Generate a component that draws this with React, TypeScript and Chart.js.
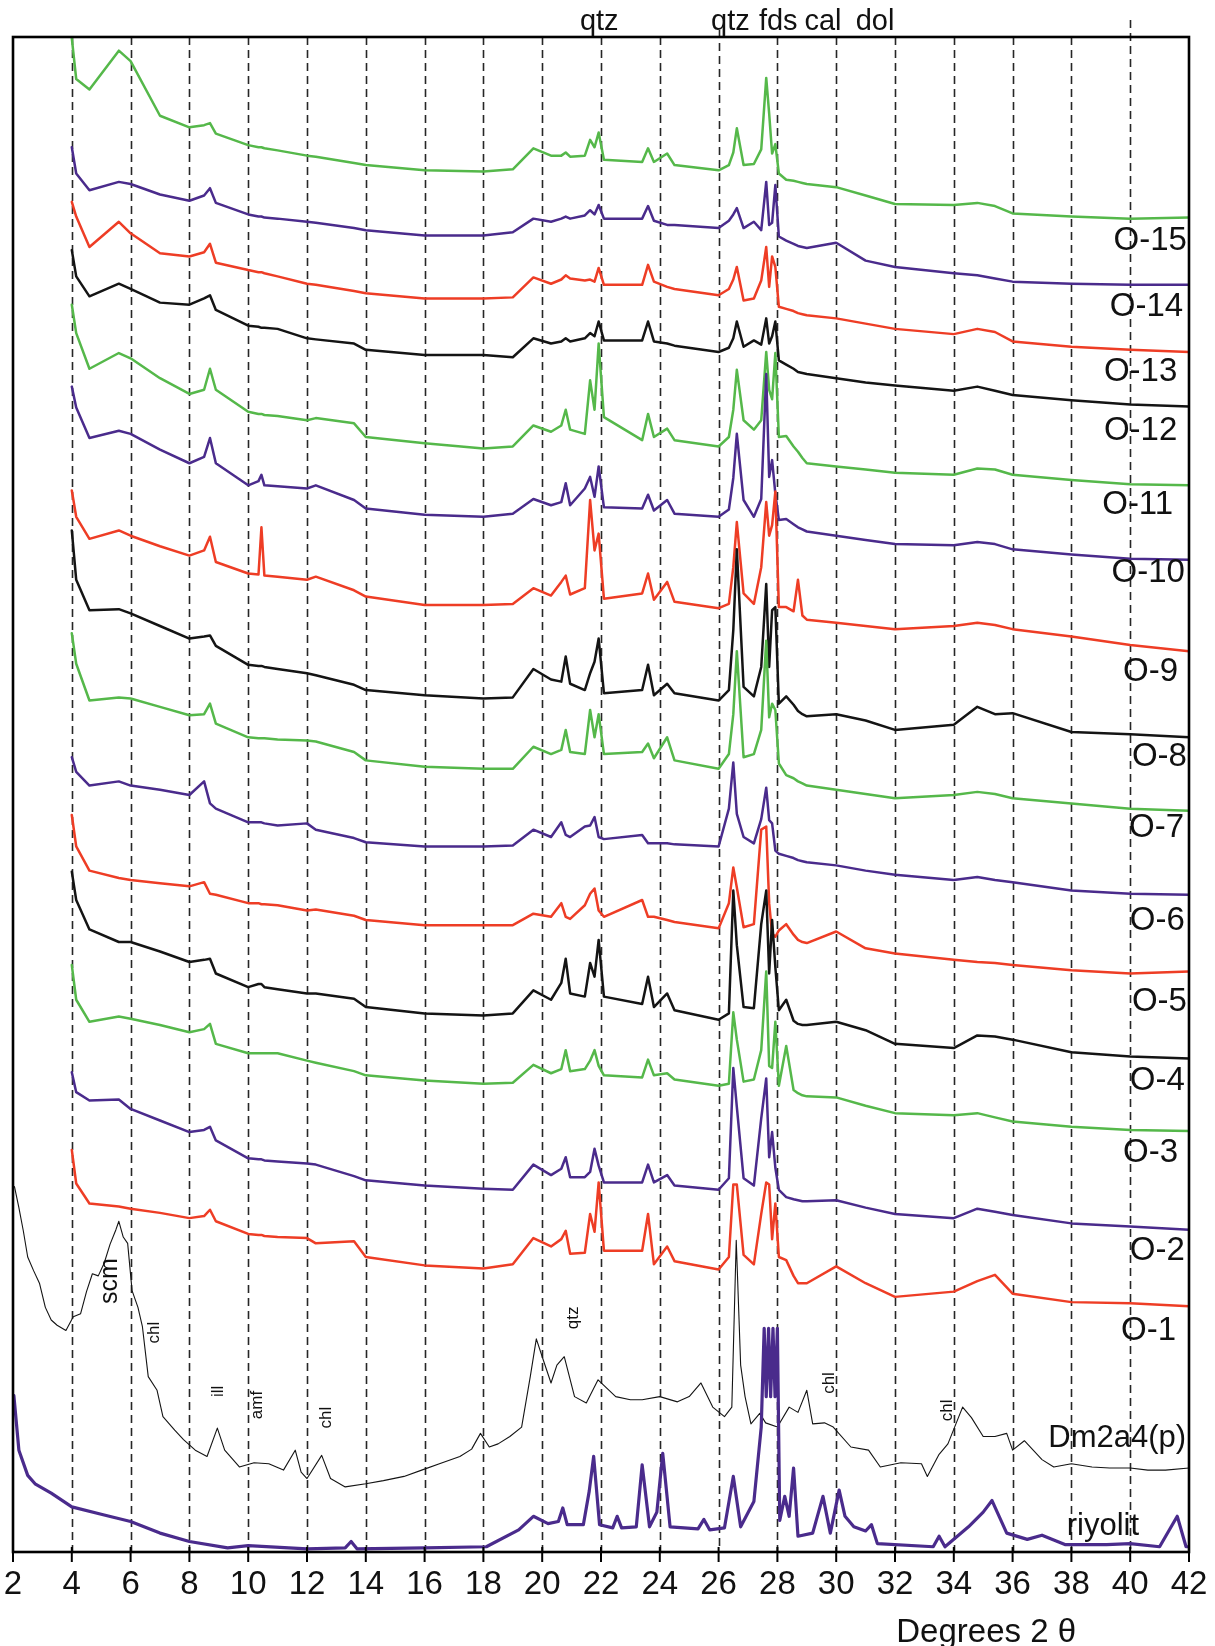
import React, { useEffect, useRef } from 'react';
import { Chart, registerables } from 'chart.js';

Chart.register(...registerables);

const FONT = "'Liberation Sans Narrow', 'Arial Narrow', 'Liberation Sans', Arial, sans-serif";

const RED = '#ee3d25';
const PURPLE = '#4a2b8c';
const GREEN = '#55b84a';
const BLACK = '#141414';

// x-axis tick labels (Degrees 2θ)
const xTicks = [2, 4, 6, 8, 10, 12, 14, 16, 18, 20, 22, 24, 26, 28, 30, 32, 34, 36, 38, 40, 42];

// shared 2θ grid for the O-samples
const twoTheta = [
  4.0, 4.15, 4.6, 5.6, 6.0, 7.0, 8.0, 8.5, 8.7, 8.9,
  10.0, 10.35, 10.45, 10.55, 11.0, 12.0, 12.3, 13.6, 14.0, 16.0,
  18.0, 19.0, 19.7, 20.3, 20.65, 20.8, 20.95, 21.45, 21.63, 21.78,
  21.92, 22.1, 23.4, 23.6, 23.8, 24.25, 24.5, 26.0, 26.35, 26.5,
  26.62, 26.85, 27.2, 27.45, 27.62, 27.72, 27.82, 27.93, 28.05, 28.3,
  28.55, 28.7, 28.85, 29.0, 30.0, 31.0, 32.0, 34.0, 34.8, 35.4,
  36.0, 38.0, 40.0, 42.0,
];

// stacked intensities (arbitrary units)
const o15 = [
  1442, 1403, 1393, 1430, 1420, 1368, 1357, 1359, 1361, 1351,
  1340, 1338, 1338, 1337, 1335, 1330, 1329, 1323, 1321, 1316,
  1315, 1317, 1337, 1330, 1330, 1333, 1329, 1330, 1345, 1338,
  1352, 1326, 1324, 1337, 1324, 1332, 1321, 1316, 1321, 1333,
  1356, 1321, 1322, 1336, 1404, 1370, 1332, 1341, 1313, 1307,
  1306, 1305, 1304, 1303, 1300, 1292, 1284, 1283, 1285, 1282,
  1275, 1272, 1270, 1271,
];
const o14 = [
  1338, 1313, 1297, 1305, 1303, 1293, 1287, 1292, 1299, 1285,
  1274, 1272, 1272, 1271, 1270, 1267, 1266, 1261, 1259, 1254,
  1254, 1257, 1270, 1267, 1270, 1272, 1270, 1273, 1278, 1274,
  1283, 1270, 1270, 1282, 1268, 1264, 1264, 1261, 1268, 1274,
  1280, 1261, 1267, 1259, 1305, 1264, 1266, 1302, 1253, 1249,
  1246, 1244, 1243, 1242, 1247, 1230, 1224, 1218, 1216, 1213,
  1210, 1208, 1207, 1207,
];
const o13 = [
  1286, 1272, 1243, 1267, 1256, 1237, 1234, 1238, 1246, 1228,
  1221, 1219, 1219, 1218, 1215, 1208, 1207, 1201, 1199, 1194,
  1194, 1195, 1214, 1208, 1212, 1216, 1213, 1211, 1212, 1210,
  1223, 1207, 1207, 1226, 1210, 1205, 1203, 1197, 1203, 1212,
  1224, 1192, 1194, 1211, 1243, 1205, 1234, 1224, 1186, 1184,
  1182, 1180, 1179, 1178, 1175, 1170, 1165, 1160, 1165, 1162,
  1153, 1148, 1145, 1143,
];
const o12 = [
  1240, 1215, 1196, 1208, 1203, 1190, 1188, 1194, 1197, 1183,
  1168, 1167, 1166, 1166, 1165, 1156, 1155, 1151, 1145, 1140,
  1140, 1138, 1156, 1151, 1153, 1156, 1153, 1156, 1161, 1158,
  1172, 1154, 1154, 1172, 1153, 1151, 1149, 1143, 1147, 1156,
  1172, 1148, 1154, 1150, 1175, 1151, 1158, 1172, 1135, 1131,
  1127, 1124, 1123, 1122, 1118, 1114, 1111, 1106, 1110, 1106,
  1102, 1097, 1093, 1091,
];
const o11 = [
  1188, 1161, 1127, 1142, 1137, 1118, 1103, 1107, 1127, 1107,
  1086, 1084, 1084, 1083, 1082, 1078, 1080, 1075, 1062, 1056,
  1051, 1053, 1073, 1067, 1073, 1088, 1069, 1065, 1116, 1088,
  1151, 1081, 1059, 1084, 1062, 1070, 1059, 1053, 1062, 1088,
  1126, 1078, 1069, 1078, 1143, 1107, 1098, 1142, 1062, 1063,
  1053, 1048, 1042, 1037, 1034, 1031, 1028, 1026, 1032, 1031,
  1026, 1021, 1017, 1016,
];
const o10 = [
  1110, 1090, 1061, 1068, 1065, 1050, 1037, 1043, 1061, 1037,
  1016, 1020, 1026, 1016, 1015, 1013, 1016, 1002, 994, 988,
  986, 989, 1003, 997, 1000, 1018, 997, 1013, 1024, 1005,
  1034, 995, 994, 1007, 992, 1002, 989, 986, 993, 1023,
  1065, 1002, 986, 1003, 1122, 1024, 1040, 1008, 983, 984,
  979, 976, 974, 972, 968, 964, 960, 959, 962, 960,
  955, 950, 946, 945,
];
const o9 = [
  1011, 986, 965, 973, 968, 958, 949, 954, 967, 943,
  932, 931, 976, 930, 929, 926, 929, 916, 910, 902,
  902, 903, 918, 911, 924, 930, 912, 918, 1002, 954,
  970, 908, 913, 932, 907, 924, 905, 899, 903, 938,
  981, 913, 903, 938, 1000, 968, 978, 1010, 900, 900,
  896, 926, 892, 888, 885, 882, 879, 882, 885, 883,
  879, 872, 864, 858,
];
const o8 = [
  973, 926, 897, 898, 894, 882, 870, 872, 873, 863,
  845, 844, 844, 843, 841, 837, 835, 826, 821, 816,
  813, 814, 841, 831, 829, 853, 827, 821, 837, 848,
  870, 818, 821, 845, 816, 827, 818, 811, 821, 878,
  955, 824, 815, 843, 922, 843, 897, 900, 808, 815,
  807, 801, 798, 796, 798, 792, 783, 788, 805, 798,
  799, 781, 779, 776,
];
const o7 = [
  875, 846, 811, 814, 813, 805, 797, 798, 808, 789,
  776, 775, 775, 775, 774, 773, 772, 762, 754, 748,
  746, 746, 767, 760, 764, 783, 762, 760, 802, 776,
  798, 760, 762, 770, 756, 776, 754, 746, 760, 798,
  858, 757, 760, 783, 868, 795, 808, 802, 751, 740,
  737, 734, 732, 730, 726, 722, 718, 721, 724, 722,
  718, 713, 708, 706,
];
const o6 = [
  757, 743, 730, 734, 730, 726, 721, 734, 713, 708,
  695, 695, 695, 694, 692, 694, 688, 680, 676, 672,
  672, 673, 688, 681, 695, 683, 681, 691, 692, 700,
  681, 679, 683, 675, 675, 675, 674, 672, 708, 752,
  703, 681, 675, 698, 728, 697, 694, 668, 665, 663,
  661, 659, 658, 657, 654, 649, 645, 640, 643, 640,
  638, 630, 627, 626,
];
const o5 = [
  702, 672, 649, 642, 640, 637, 634, 638, 627, 626,
  618, 618, 617, 617, 616, 611, 612, 606, 602, 597,
  597, 597, 608, 605, 618, 605, 603, 616, 627, 632,
  611, 605, 621, 605, 605, 602, 600, 594, 618, 652,
  633, 595, 598, 688, 691, 618, 589, 586, 592, 598,
  588, 583, 581, 580, 591, 575, 570, 564, 562, 561,
  559, 554, 551, 553,
];
const o4 = [
  648, 621, 593, 581, 581, 572, 562, 564, 565, 551,
  538, 541, 541, 538, 536, 532, 532, 527, 519, 513,
  511, 513, 535, 526, 542, 565, 532, 529, 561, 548,
  583, 529, 522, 548, 519, 532, 516, 507, 513, 630,
  578, 519, 518, 598, 630, 551, 602, 557, 516, 526,
  506, 503, 502, 502, 505, 497, 484, 480, 492, 491,
  488, 476, 472, 470,
];
const o3 = [
  559, 526, 505, 510, 508, 502, 495, 498, 503, 484,
  475, 475, 475, 475, 475, 468, 466, 458, 454, 449,
  446, 447, 464, 456, 460, 478, 458, 460, 468, 478,
  463, 454, 452, 469, 454, 456, 450, 444, 446, 514,
  488, 448, 450, 478, 553, 463, 461, 505, 444, 482,
  440, 437, 435, 434, 433, 425, 418, 416, 418, 414,
  410, 405, 402, 401,
];
const o2 = [
  457, 438, 430, 431, 422, 411, 400, 402, 405, 392,
  375, 374, 374, 373, 372, 370, 369, 358, 354, 349,
  346, 345, 369, 359, 365, 376, 357, 357, 362, 384,
  368, 352, 352, 369, 352, 359, 349, 345, 356, 461,
  424, 356, 349, 413, 451, 376, 400, 366, 345, 338,
  336, 335, 334, 334, 335, 328, 322, 318, 327, 324,
  321, 313, 310, 307,
];
const o1 = [
  383, 351, 332, 329, 327, 323, 318, 320, 326, 315,
  303, 302, 302, 301, 300, 299, 294, 296, 281, 273,
  270, 274, 299, 291, 298, 306, 284, 285, 322, 305,
  352, 287, 287, 322, 274, 291, 277, 269, 281, 350,
  350, 283, 274, 322, 352, 350, 298, 332, 281, 278,
  263, 256, 256, 256, 272, 256, 243, 248, 258, 264,
  246, 238, 237, 234,
];

// Dm2a4(p) reference pattern
const dmTheta = [
  2.05, 2.2, 2.35, 2.5, 2.7, 2.9, 3.1, 3.3, 3.5, 3.8,
  4.05, 4.3, 4.5, 4.7, 4.9, 5.1, 5.3, 5.5, 5.6, 5.75,
  5.9, 6.05, 6.25, 6.4, 6.6, 6.9, 7.1, 7.5, 7.8, 8.2,
  8.6, 8.95, 9.2, 9.7, 10.2, 10.7, 11.2, 11.6, 11.8, 12.0,
  12.5, 12.8, 13.3, 14.0, 14.6, 15.3, 15.9, 16.6, 17.2, 17.6,
  17.9, 18.2, 18.5, 18.9, 19.3, 19.6, 19.8, 20.0, 20.3, 20.5,
  20.75, 21.1, 21.5, 21.9, 22.5, 23.0, 23.4, 24.0, 24.6, 25.0,
  25.4, 25.8, 26.2, 26.45, 26.6, 26.75, 26.9, 27.1, 27.4, 27.6,
  28.0, 28.4, 28.7, 29.0, 29.2, 29.6, 29.9, 30.5, 31.1, 31.5,
  32.2, 32.9, 33.1, 33.5, 33.8, 34.3, 34.6, 35.0, 35.4, 35.8,
  36.0, 36.4, 37.0, 37.4, 38.0, 38.7, 39.3, 40.0, 40.6, 41.2,
  42.0,
];
const dmIntensity = [
  348, 328, 306, 281, 268, 256, 233, 221, 216, 211,
  224, 227, 248, 265, 263, 275, 293, 307, 315, 300,
  294, 249, 233, 215, 167, 154, 129, 116, 107, 97,
  91, 118, 97, 81, 85, 84, 78, 97, 76, 70,
  92, 70, 62, 65, 68, 72, 78, 85, 91, 98,
  113, 100, 103, 110, 119, 168, 203, 186, 161, 178,
  186, 148, 142, 164, 148, 145, 145, 148, 143, 148,
  161, 138, 129, 138, 297, 178, 148, 122, 132, 123,
  119, 138, 133, 154, 122, 123, 119, 100, 97, 81,
  85, 84, 72, 93, 103, 138, 128, 110, 110, 113,
  97, 106, 88, 81, 84, 81, 80, 80, 78, 78,
  80,
];

// riyolit reference pattern
const riyTheta = [
  2.03, 2.2, 2.5, 2.75, 3.3, 4.0, 5.0, 6.0, 7.0, 8.0,
  9.3, 10.0, 12.0, 13.3, 13.5, 13.7, 16.0, 18.1, 19.2, 19.7,
  20.2, 20.55, 20.7, 20.85, 21.4, 21.6, 21.75, 21.95, 22.4, 22.55,
  22.7, 23.2, 23.4, 23.65, 23.9, 24.1, 24.35, 25.3, 25.5, 25.7,
  26.2, 26.5, 26.75, 27.2, 27.45, 27.55, 27.62, 27.7, 27.77, 27.85,
  27.92, 28.0, 28.08, 28.25, 28.4, 28.55, 28.7, 29.2, 29.55, 29.8,
  30.1, 30.3, 30.6, 31.0, 31.2, 31.4, 33.3, 33.5, 33.7, 34.5,
  35.0, 35.3, 35.8, 36.5, 37.0, 37.8, 39.2, 40.0, 41.0, 41.6,
  41.9, 42.0,
];
const riyIntensity = [
  149, 97, 73, 65, 56, 43, 36, 29, 18, 10,
  4, 6, 3, 4, 10, 3, 4, 5, 21, 34,
  27, 29, 42, 26, 26, 58, 91, 26, 23, 34,
  23, 24, 83, 24, 38, 94, 24, 22, 31, 21,
  23, 72, 24, 48, 119, 213, 148, 213, 148, 213,
  148, 213, 30, 53, 34, 80, 15, 18, 53, 18,
  59, 34, 24, 20, 26, 8, 5, 15, 5, 24,
  38, 49, 18, 12, 16, 7, 7, 8, 5, 34,
  5, 5,
];

const sampleNames = ['O-1', 'O-2', 'O-3', 'O-4', 'O-5', 'O-6', 'O-7', 'O-8', 'O-9', 'O-10', 'O-11', 'O-12', 'O-13', 'O-14', 'O-15'];
const sampleSeries = [o1, o2, o3, o4, o5, o6, o7, o8, o9, o10, o11, o12, o13, o14, o15];
const sampleColors = [RED, PURPLE, GREEN, BLACK];

// label anchors (right edge in 2θ, centre in intensity units)
const sampleLabelPos: Record<string, [number, number]> = {
  'O-15': [41.93, 1249], 'O-14': [41.8, 1186], 'O-13': [41.6, 1124], 'O-12': [41.6, 1068],
  'O-11': [41.46, 997], 'O-10': [41.86, 933], 'O-9': [41.63, 838], 'O-8': [41.93, 757],
  'O-7': [41.83, 690], 'O-6': [41.86, 601], 'O-5': [41.93, 524], 'O-4': [41.86, 449],
  'O-3': [41.63, 380], 'O-2': [41.86, 287], 'O-1': [41.56, 211],
  'Dm2a4(p)': [41.9, 108], 'riyolit': [40.3, 24],
};

const phaseLabels: { text: string; x: number; y: number; size: number }[] = [
  { text: 'scm', x: 5.3, y: 258, size: 25 },
  { text: 'chl', x: 6.81, y: 209, size: 17 },
  { text: 'ill', x: 8.99, y: 153, size: 17 },
  { text: 'amf', x: 10.31, y: 140, size: 17 },
  { text: 'chl', x: 12.66, y: 128, size: 17 },
  { text: 'qtz', x: 21.06, y: 223, size: 17 },
  { text: 'chl', x: 29.76, y: 161, size: 17 },
  { text: 'chl', x: 33.77, y: 135, size: 17 },
];

const topLabels: { text: string; x: number }[] = [
  { text: 'qtz', x: 21.94 },
  { text: 'qtz', x: 26.4 },
  { text: 'fds', x: 28.03 },
  { text: 'cal', x: 29.55 },
  { text: 'dol', x: 31.32 },
];

const overlayPlugin = {
  id: 'xrdOverlay',
  beforeDatasetsDraw(chart: any) {
    const { ctx, chartArea: a, scales } = chart;
    const x = scales.x;
    ctx.save();
    ctx.strokeStyle = '#262626';
    ctx.lineWidth = 1.6;
    ctx.setLineDash([8, 5]);
    xTicks.forEach((d) => {
      if (d === 2 || d === 42) return;
      const px = Math.round(x.getPixelForValue(d)) + 0.5;
      const top = d === 26 ? 30 : d === 40 ? 20 : a.top;
      ctx.beginPath();
      ctx.moveTo(px, top);
      ctx.lineTo(px, a.bottom);
      ctx.stroke();
    });
    ctx.restore();
  },
  afterDatasetsDraw(chart: any) {
    const { ctx, chartArea: a, scales } = chart;
    const x = scales.x;
    const y = scales.y;
    ctx.save();
    // frame
    ctx.strokeStyle = '#000';
    ctx.lineWidth = 2.6;
    ctx.strokeRect(a.left, a.top, a.right - a.left, a.bottom - a.top);
    // ticks crossing the axis
    ctx.lineWidth = 2;
    xTicks.forEach((d) => {
      const px = x.getPixelForValue(d);
      ctx.beginPath();
      ctx.moveTo(px, a.bottom - 5);
      ctx.lineTo(px, a.bottom + 10);
      ctx.stroke();
    });
    // sample labels
    ctx.fillStyle = '#111';
    ctx.textBaseline = 'middle';
    ctx.textAlign = 'right';
    Object.keys(sampleLabelPos).forEach((name) => {
      const [lx, ly] = sampleLabelPos[name];
      const size = name === 'Dm2a4(p)' || name === 'riyolit' ? 31 : 33;
      ctx.font = `${size}px ${FONT}`;
      ctx.fillText(name, x.getPixelForValue(lx), y.getPixelForValue(ly));
    });
    // rotated phase labels
    phaseLabels.forEach((p) => {
      ctx.save();
      ctx.translate(x.getPixelForValue(p.x), y.getPixelForValue(p.y));
      ctx.rotate(-Math.PI / 2);
      ctx.textAlign = 'center';
      ctx.textBaseline = 'middle';
      ctx.font = `${p.size}px ${FONT}`;
      ctx.fillText(p.text, 0, 0);
      ctx.restore();
    });
    // labels above the frame
    ctx.textAlign = 'center';
    ctx.textBaseline = 'alphabetic';
    ctx.font = `29px ${FONT}`;
    topLabels.forEach((t) => {
      ctx.fillText(t.text, x.getPixelForValue(t.x), a.top - 7);
    });
    // axis title
    ctx.font = `33px ${FONT}`;
    ctx.textBaseline = 'middle';
    ctx.fillText('Degrees 2 \u03b8', x.getPixelForValue(35.1), 1633);
    ctx.restore();
  },
};

export default function App() {
  const canvasRef = useRef<HTMLCanvasElement | null>(null);

  useEffect(() => {
    const canvas = canvasRef.current;
    if (!canvas) return;

    const datasets: any[] = [];
    datasets.push({
      label: 'riyolit',
      data: riyTheta.map((t, i) => ({ x: t, y: riyIntensity[i] })),
      borderColor: PURPLE,
      borderWidth: 3.2,
    });
    datasets.push({
      label: 'Dm2a4(p)',
      data: dmTheta.map((t, i) => ({ x: t, y: dmIntensity[i] })),
      borderColor: BLACK,
      borderWidth: 1.1,
    });
    sampleSeries.forEach((s, k) => {
      datasets.push({
        label: sampleNames[k],
        data: twoTheta.map((t, i) => ({ x: t, y: s[i] })),
        borderColor: sampleColors[k % 4],
        borderWidth: 2.5,
      });
    });
    datasets.forEach((d) => {
      d.pointRadius = 0;
      d.fill = false;
      d.tension = 0;
      d.borderJoinStyle = 'round';
      d.borderCapStyle = 'round';
    });

    const chart = new Chart(canvas, {
      type: 'line',
      data: { datasets },
      options: {
        animation: false,
        responsive: false,
        maintainAspectRatio: false,
        events: [],
        layout: { padding: { left: 13, right: 26, top: 37, bottom: 0 } },
        plugins: {
          legend: { display: false },
          tooltip: { enabled: false },
          title: { display: false },
        },
        scales: {
          x: {
            type: 'linear',
            min: 2,
            max: 42,
            grid: { display: false },
            border: { display: false },
            afterBuildTicks: (scale: any) => {
              scale.ticks = xTicks.map((v) => ({ value: v }));
            },
            afterFit: (scale: any) => {
              scale.height = 94;
              scale.paddingLeft = 0;
              scale.paddingRight = 0;
            },
            ticks: {
              autoSkip: false,
              maxRotation: 0,
              padding: 5,
              color: '#111',
              font: { family: FONT, size: 33 },
              callback: (v: any) => String(v),
            },
          },
          y: {
            type: 'linear',
            min: 0,
            max: 1443,
            display: false,
          },
        },
      },
      plugins: [overlayPlugin],
    });

    return () => chart.destroy();
  }, []);

  return (
    <div style={{ position: 'absolute', left: 0, top: 0, width: 1215, height: 1646, background: '#fff' }}>
      <canvas ref={canvasRef} width={1215} height={1646} style={{ display: 'block' }} />
    </div>
  );
}
